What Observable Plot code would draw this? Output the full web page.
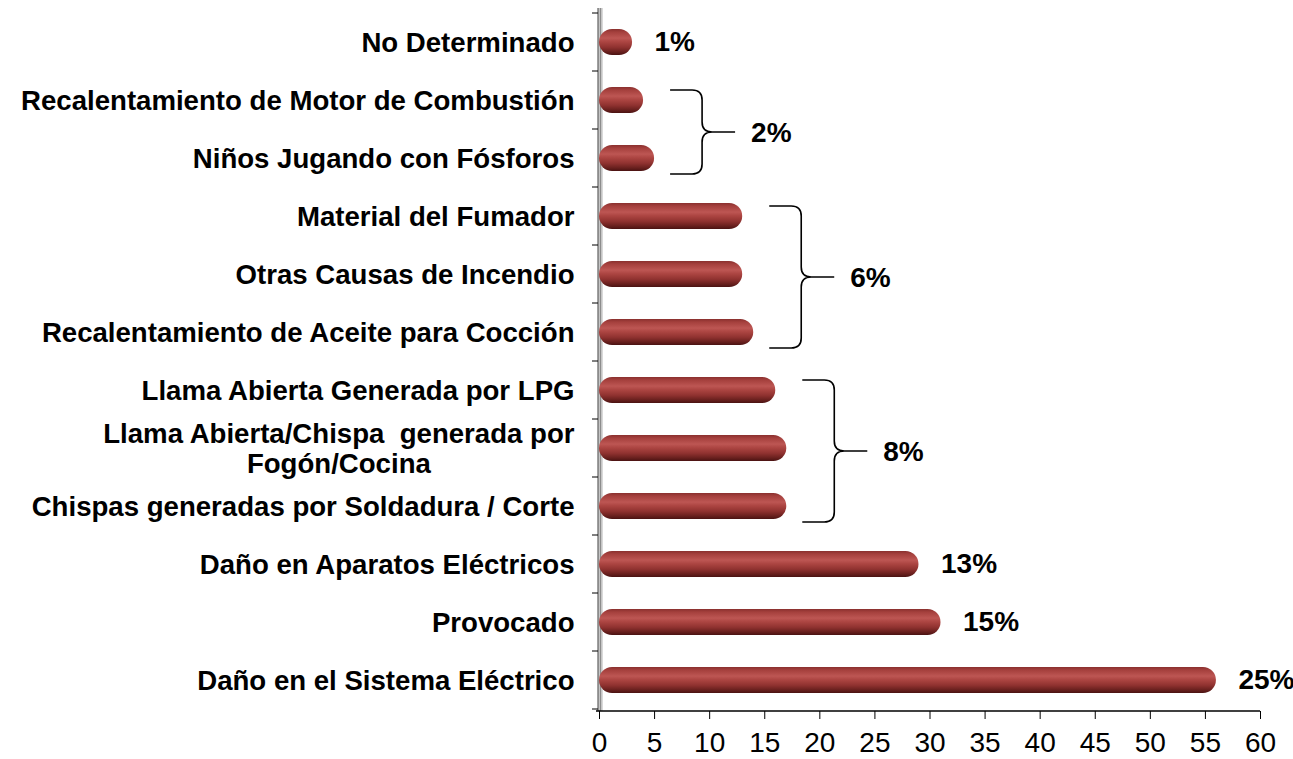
<!DOCTYPE html>
<html><head><meta charset="utf-8">
<script src="https://cdn.jsdelivr.net/npm/d3@7"></script>
<script src="https://cdn.jsdelivr.net/npm/@observablehq/plot@0.6"></script>
<style>
body{margin:0;background:#fff;}
svg{display:block;}
</style>
</head><body><div id="chart"></div>
<script>
const categories = [
  "No Determinado",
  "Recalentamiento de Motor de Combustión",
  "Niños Jugando con Fósforos",
  "Material del Fumador",
  "Otras Causas de Incendio",
  "Recalentamiento de Aceite para Cocción",
  "Llama Abierta Generada por LPG",
  "Llama Abierta/Chispa  generada por\nFogón/Cocina",
  "Chispas generadas por Soldadura / Corte",
  "Daño en Aparatos Eléctricos",
  "Provocado",
  "Daño en el Sistema Eléctrico"
];
const values = [3, 4, 5, 13, 13, 14, 16, 17, 17, 29, 31, 56];

const singleLabelCats = ["No Determinado", "Daño en Aparatos Eléctricos", "Provocado", "Daño en el Sistema Eléctrico"];
const singleLabels = ["1%", "13%", "15%", "25%"];

const groupLabels = ["2%", "6%", "8%"];
const groupFirst = ["Recalentamiento de Motor de Combustión", "Material del Fumador", "Llama Abierta Generada por LPG"];
const groupLast = ["Niños Jugando con Fósforos", "Recalentamiento de Aceite para Cocción", "Chispas generadas por Soldadura / Corte"];

const xTicks = [0, 5, 10, 15, 20, 25, 30, 35, 40, 45, 50, 55, 60];

const data = categories.map((c, i) => ({cat: c, value: values[i]}));
const valueOf = new Map(data.map(d => [d.cat, d.value]));
const singles = singleLabelCats.map((c, i) => ({cat: c, value: valueOf.get(c), label: singleLabels[i]}));
const groups = groupLabels.map((l, i) => {
  const i0 = categories.indexOf(groupFirst[i]), i1 = categories.indexOf(groupLast[i]);
  const members = categories.slice(i0, i1 + 1);
  return {label: l, first: groupFirst[i], last: groupLast[i], max: d3.max(members, c => valueOf.get(c))};
});

const FONT = "'Liberation Sans', Arial, sans-serif";

const defsMark = () => {
  const g = d3.create("svg:g");
  const grad = g.append("defs").append("linearGradient")
    .attr("id", "barGrad").attr("x1", 0).attr("y1", 0).attr("x2", 0).attr("y2", 1);
  [[0, "#8a302e"], [0.12, "#a5403d"], [0.35, "#bd5653"], [0.5, "#ab4441"], [0.7, "#903230"], [0.88, "#69201e"], [1, "#4a1212"]]
    .forEach(([o, c]) => grad.append("stop").attr("offset", o).attr("stop-color", c));
  return g.node();
};

const frameMark = (index, scales, vals, dim) => {
  const {x, y} = scales;
  const g = d3.create("svg:g");
  const x0 = x(0);
  const top = dim.marginTop, bottom = dim.height - dim.marginBottom;
  const bw = y.bandwidth();
  const step = y(categories[1]) - y(categories[0]);
  // 3D wall
  g.append("rect").attr("x", x0 - 1).attr("y", top - 3).attr("width", 5).attr("height", bottom - top + 3)
    .attr("fill", "#d9d9d9");
  g.append("line").attr("x1", x0 + 1.5).attr("x2", x0 + 1.5).attr("y1", top - 3).attr("y2", bottom)
    .attr("stroke", "#8c8c8c").attr("stroke-width", 1.5);
  g.append("line").attr("x1", x0 - 1).attr("x2", x0 - 1).attr("y1", top - 3).attr("y2", bottom)
    .attr("stroke", "#404040").attr("stroke-width", 1);
  // band boundary ticks
  const bounds = categories.map(c => y(c) + bw / 2 - step / 2).concat([y(categories[categories.length - 1]) + bw / 2 + step / 2]);
  for (const b of bounds) {
    g.append("line").attr("x1", x0 - 7).attr("x2", x0 - 1).attr("y1", b).attr("y2", b)
      .attr("stroke", "#000").attr("stroke-width", 1);
  }
  // bottom axis line
  g.append("line").attr("x1", x0 - 3).attr("x2", x(60)).attr("y1", bottom).attr("y2", bottom)
    .attr("stroke", "#000").attr("stroke-width", 1.6);
  return g.node();
};

const braceMark = (index, scales) => {
  const {x, y} = scales;
  const bw = y.bandwidth();
  const g = d3.create("svg:g");
  for (const gr of groups) {
    const x0 = x(gr.max) + 16, xv = x0 + 32, xt = x0 + 65;
    const t = y(gr.first) + 3, b = y(gr.last) + bw + 3, m = (t + b) / 2, r = 10;
    const p = `M${x0},${t} L${xv - r},${t} Q${xv},${t} ${xv},${t + r} L${xv},${m - r} Q${xv},${m} ${xv + r},${m} L${xt},${m}` +
      ` M${xv + r},${m} Q${xv},${m} ${xv},${m + r} L${xv},${b - r} Q${xv},${b} ${xv - r},${b} L${x0},${b}`;
    g.append("path").attr("d", p).attr("fill", "none").attr("stroke", "#000").attr("stroke-width", 1.6);
    g.append("text").attr("x", xt + 16).attr("y", m).attr("dy", "0.36em")
      .attr("text-anchor", "start")
      .attr("font-family", FONT).attr("font-weight", "bold").attr("font-size", 28).attr("fill", "#000")
      .text(gr.label);
  }
  return g.node();
};

const chart = Plot.plot({
  width: 1293,
  height: 759,
  marginLeft: 599,
  marginRight: 33,
  marginTop: 11,
  marginBottom: 48,
  style: {fontFamily: FONT, background: "#fff", color: "#000", overflow: "visible"},
  x: {domain: [0, 60]},
  y: {domain: categories, paddingInner: 0.55, paddingOuter: 0.275},
  marks: [
    defsMark,
    frameMark,
    Plot.barX(data, {x: "value", y: "cat", fill: "url(#barGrad)", rx: 13}),
    Plot.text(singles, {x: "value", y: "cat", text: "label", dx: 22, textAnchor: "start",
      fontSize: 28, fontWeight: "bold", fill: "#000"}),
    braceMark,
    Plot.axisY({tickSize: 0, tickPadding: 25, fontSize: 27.6, fontWeight: "bold", label: null,
      tickFormat: d => d, lineHeight: 1.06}),
    Plot.axisX({ticks: xTicks, tickSize: 8, tickPadding: 13, fontSize: 28, label: null,
      tickFormat: d => String(d), stroke: "#000"})
  ]
});
document.getElementById("chart").appendChild(chart);

// centre the second line of the two-line category label under its first line
d3.select(chart).selectAll("text").each(function () {
  const spans = this.querySelectorAll("tspan");
  if (spans.length === 2 && this.textContent.includes("Fogón")) {
    const w1 = spans[0].getComputedTextLength(), w2 = spans[1].getComputedTextLength();
    spans[1].setAttribute("x", String(-(w1 - w2) / 2));
  }
});
</script>
</body></html>
